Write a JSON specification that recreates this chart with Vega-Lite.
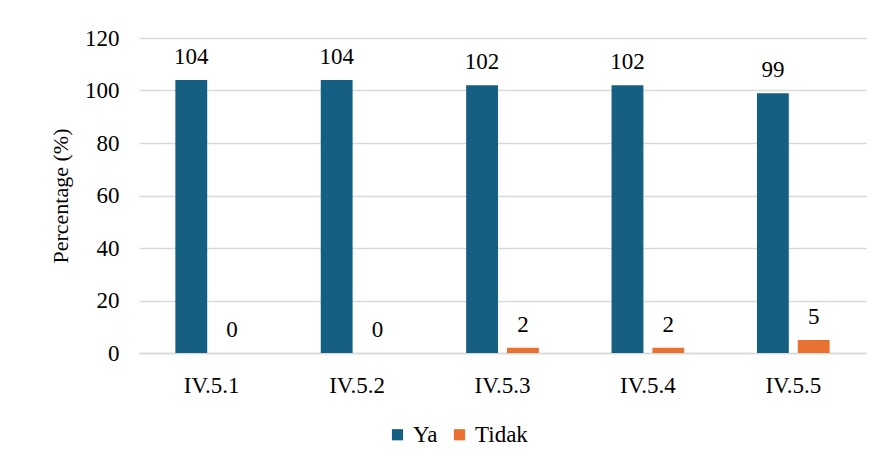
{
  "$schema": "https://vega.github.io/schema/vega-lite/v6.json",
  "width": 727,
  "height": 315,
  "autosize": {"type": "none"},
  "padding": {"left": 139, "top": 38, "right": 14, "bottom": 115},
  "background": "white",
  "data": {
    "values": [
      {"item": "IV.5.1", "answer": "Ya", "value": 104},
      {"item": "IV.5.1", "answer": "Tidak", "value": 0},
      {"item": "IV.5.2", "answer": "Ya", "value": 104},
      {"item": "IV.5.2", "answer": "Tidak", "value": 0},
      {"item": "IV.5.3", "answer": "Ya", "value": 102},
      {"item": "IV.5.3", "answer": "Tidak", "value": 2},
      {"item": "IV.5.4", "answer": "Ya", "value": 102},
      {"item": "IV.5.4", "answer": "Tidak", "value": 2},
      {"item": "IV.5.5", "answer": "Ya", "value": 99},
      {"item": "IV.5.5", "answer": "Tidak", "value": 5}
    ]
  },
  "encoding": {
    "x": {
      "field": "item", "type": "nominal",
      "scale": {"paddingInner": 0.5, "paddingOuter": 0.25},
      "axis": {"title": null, "labelAngle": 0, "ticks": false, "labelPadding": 21, "domainColor": "#d9d9d9", "domainWidth": 1.5}
    },
    "xOffset": {"field": "answer", "type": "nominal", "sort": ["Ya", "Tidak"], "scale": {"paddingInner": 0.22, "paddingOuter": 0}},
    "y": {
      "field": "value", "type": "quantitative",
      "scale": {"domain": [0, 120]},
      "axis": {"title": "Percentage (%)", "values": [0, 20, 40, 60, 80, 100, 120], "labelOverlap": false, "domain": false, "ticks": false, "labelPadding": 20, "titlePadding": 12, "gridColor": "#d9d9d9", "gridWidth": 1.5}
    }
  },
  "layer": [
    {
      "mark": {"type": "bar"},
      "encoding": {
        "color": {
          "field": "answer", "type": "nominal", "sort": ["Ya", "Tidak"],
          "scale": {"domain": ["Ya", "Tidak"], "range": ["#156082", "#E97132"]},
          "legend": {"title": null, "orient": "none", "direction": "horizontal", "legendX": 247, "legendY": 385, "symbolType": "square", "symbolSize": 125, "symbolStrokeWidth": 0, "labelOffset": 4, "columnPadding": 10}
        }
      }
    },
    {
      "mark": {"type": "text", "dy": -23, "baseline": "middle", "font": "Liberation Serif", "fontSize": 23, "color": "#000000"},
      "encoding": {"text": {"field": "value", "type": "quantitative"}}
    }
  ],
  "config": {
    "font": "Liberation Serif",
    "view": {"stroke": null},
    "axis": {"labelFont": "Liberation Serif", "labelFontSize": 23, "labelColor": "#000000", "titleFont": "Liberation Serif", "titleFontSize": 22, "titleFontWeight": "normal", "titleColor": "#000000"},
    "legend": {"labelFont": "Liberation Serif", "labelFontSize": 23, "labelColor": "#000000"}
  }
}
